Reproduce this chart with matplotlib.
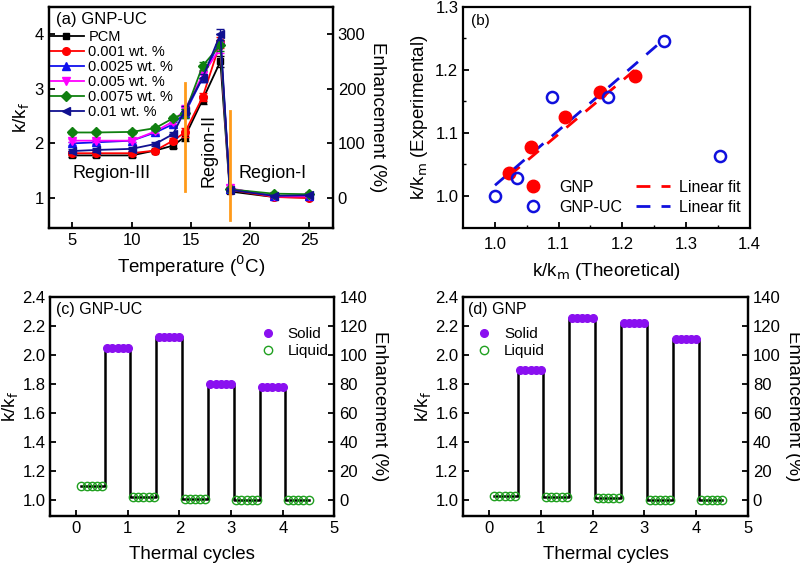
import numpy as np
import matplotlib
matplotlib.use("Agg")
import matplotlib.pyplot as plt

plt.rcParams['font.family'] = ['Liberation Sans', 'DejaVu Sans']
plt.rcParams['xtick.direction'] = 'in'
plt.rcParams['ytick.direction'] = 'in'
plt.rcParams['axes.linewidth'] = 1.6

# (a) k/kf vs temperature
temp = [5, 7, 10, 12, 13.5, 14.5, 16, 17.5, 18.3, 22, 25]
pcm = [1.78, 1.78, 1.78, 1.87, 1.96, 2.12, 2.80, 3.50, 1.12, 1.02, 1.01]
w0001 = [1.82, 1.82, 1.82, 1.87, 2.05, 2.20, 2.85, 3.85, 1.15, 1.02, 1.00]
w00025 = [2.00, 2.02, 2.05, 2.20, 2.35, 2.55, 3.20, 3.90, 1.17, 1.04, 1.04]
w0005 = [2.05, 2.05, 2.05, 2.22, 2.40, 2.62, 3.25, 3.75, 1.18, 1.03, 1.03]
w00075 = [2.20, 2.20, 2.21, 2.28, 2.46, 2.55, 3.42, 3.80, 1.16, 1.08, 1.07]
w001 = [1.86, 1.88, 1.90, 1.99, 2.17, 2.60, 3.20, 4.00, 1.15, 1.04, 1.05]
err = [0.03, 0.03, 0.03, 0.03, 0.04, 0.08, 0.07, 0.10, 0.03, 0.02, 0.02]
series_labels = ['PCM', '0.001 wt. %', '0.0025 wt. %', '0.005 wt. %', '0.0075 wt. %', '0.01 wt. %']

# (b) experimental vs theoretical
gnp_th = [1.022, 1.056, 1.110, 1.165, 1.220]
gnp_ex = [1.036, 1.077, 1.125, 1.165, 1.190]
uc_th = [1.000, 1.035, 1.089, 1.177, 1.265, 1.353]
uc_ex = [1.000, 1.028, 1.157, 1.157, 1.245, 1.064]
gnp_fit_x = [1.022, 1.220]
gnp_fit_y = [1.032, 1.200]
uc_fit_x = [1.000, 1.265]
uc_fit_y = [1.017, 1.248]

# (c), (d) thermal cycles
liq_x = [[0.1, 0.2, 0.3, 0.4, 0.5], [1.1, 1.2, 1.3, 1.4, 1.5], [2.1, 2.2, 2.3, 2.4, 2.5],
         [3.1, 3.2, 3.3, 3.4, 3.5], [4.1, 4.2, 4.3, 4.4, 4.5]]
sol_x = [[0.6, 0.7, 0.8, 0.9, 1.0], [1.6, 1.7, 1.8, 1.9, 2.0],
         [2.6, 2.7, 2.8, 2.9, 3.0], [3.6, 3.7, 3.8, 3.9, 4.0]]
uc_liquid = [1.10, 1.025, 1.005, 1.0, 1.0]
uc_solid = [2.045, 2.12, 1.80, 1.78]
gnp_liquid = [1.03, 1.02, 1.015, 1.0, 1.0]
gnp_solid = [1.895, 2.255, 2.217, 2.108]

LAB = 13.5

fig = plt.figure(figsize=(8, 5.66), dpi=100)

# ---- panel (a)
ax = fig.add_axes([0.061, 0.597, 0.355, 0.391])
colors = ['black', 'red', '#1010ee', '#ff00ff', '#108010', '#101090']
markers = ['s', 'o', '^', 'v', 'D', '<']
msizes = [5, 5.5, 5.5, 5.5, 5, 5.5]
for ys, c, m, ms, lab in zip([pcm, w0001, w00025, w0005, w00075, w001], colors, markers, msizes, series_labels):
    ax.errorbar(temp, ys, yerr=err, fmt='none', ecolor=c, capsize=3, elinewidth=1)
    ax.plot(temp, ys, color=c, marker=m, ms=ms, lw=1.3, label=lab)
ax.plot([14.5, 14.5], [1.12, 3.1], color='#ff9a1a', lw=2)
ax.plot([18.3, 18.3], [0.6, 2.6], color='#ff9a1a', lw=2)
ax.text(8.3, 1.45, 'Region-III', fontsize=13, ha='center', va='center')
ax.text(16.5, 1.88, 'Region-II', fontsize=13, ha='center', va='center', rotation=90)
ax.text(21.9, 1.45, 'Region-I', fontsize=13, ha='center', va='center')
ax.text(3.6, 4.27, '(a) GNP-UC', fontsize=12, va='center')
ax.set_xlim(3, 27)
ax.set_ylim(0.45, 4.5)
ax.set_xticks([5, 10, 15, 20, 25])
ax.set_yticks([1, 2, 3, 4])
ax.set_xlabel('Temperature ($^0$C)', fontsize=LAB)
ax.set_ylabel('k/k$_\\mathrm{f}$', fontsize=LAB, labelpad=2)
ax.tick_params(labelsize=12, width=1.3, length=4)
ax.legend(loc='upper left', bbox_to_anchor=(-0.01, 0.91), frameon=False, fontsize=10.5,
          handlelength=2.4, handletextpad=0.3, labelspacing=0.08, borderpad=0.2, borderaxespad=0)
ax2 = ax.twinx()
ax2.set_ylim((0.45 - 1) * 100, (4.5 - 1) * 100)
ax2.set_yticks([0, 100, 200, 300])
ax2.set_ylabel('Enhancement (%)', fontsize=LAB, rotation=270, labelpad=15)
ax2.tick_params(labelsize=12, width=1.3, length=4)

# ---- panel (b)
bx = fig.add_axes([0.579, 0.598, 0.358, 0.390])
bx.plot(gnp_fit_x, gnp_fit_y, '--', color='red', lw=2, dashes=(5, 4), label='Linear fit')
bx.plot(uc_fit_x, uc_fit_y, '--', color='#1010dd', lw=2, dashes=(5, 4), label='Linear fit')
bx.plot(gnp_th, gnp_ex, 'o', color='red', ms=9, label='GNP')
bx.plot(uc_th, uc_ex, 'o', mfc='none', mec='#1010dd', mew=1.8, ms=8, label='GNP-UC')
h, l = bx.get_legend_handles_labels()
bx.legend([h[2], h[3], h[0], h[1]], [l[2], l[3], l[0], l[1]], ncol=2, loc='lower right',
          bbox_to_anchor=(0.99, 0.03), frameon=False, fontsize=11.5, handlelength=2.1,
          handletextpad=0.55, columnspacing=0.9, labelspacing=0.3, borderaxespad=0)
bx.text(0.962, 1.277, '(b)', fontsize=11, va='center')
bx.set_xlim(0.95, 1.4)
bx.set_ylim(0.95, 1.3)
bx.set_xticks([1.0, 1.1, 1.2, 1.3, 1.4])
bx.set_xticks([1.05, 1.15, 1.25, 1.35], minor=True)
bx.set_yticks([1.0, 1.1, 1.2, 1.3])
bx.set_yticks([1.05, 1.15, 1.25], minor=True)
bx.set_xlabel('k/k$_\\mathrm{m}$ (Theoretical)', fontsize=LAB, labelpad=6)
bx.set_ylabel('k/k$_\\mathrm{m}$ (Experimental)', fontsize=LAB)
bx.tick_params(labelsize=12, width=1.3, length=4)
bx.tick_params(axis='x', pad=7)
bx.tick_params(which='minor', width=1, length=2.5)


def cycle_panel(pos, liquid, solid, title, leg_loc, leg_anchor):
    cx = fig.add_axes(pos)
    xs, ys = [], []
    for i in range(5):
        xs += liq_x[i]
        ys += [liquid[i]] * 5
        if i < 4:
            xs += sol_x[i]
            ys += [solid[i]] * 5
    cx.plot(xs, ys, color='black', lw=1.8, drawstyle='steps-mid', zorder=1)
    for i in range(4):
        cx.plot(sol_x[i], [solid[i]] * 5, 'o', color='#8a10f0', ms=5.5, zorder=2,
                label='Solid' if i == 0 else None)
    for i in range(5):
        cx.plot(liq_x[i], [liquid[i]] * 5, 'o', mfc='none', mec='#20a020', mew=1, ms=6, zorder=2,
                label='Liquid' if i == 0 else None)
    cx.text(-0.4, 2.31, title, fontsize=11.5, va='center')
    cx.legend(loc=leg_loc, bbox_to_anchor=leg_anchor, frameon=False, fontsize=11,
              handlelength=1.0, handletextpad=0.8, labelspacing=0.2, borderaxespad=0)
    cx.set_xlim(-0.5, 5)
    cx.set_ylim(0.89, 2.4)
    cx.set_xticks([0, 1, 2, 3, 4, 5])
    cx.set_yticks([1.0, 1.2, 1.4, 1.6, 1.8, 2.0, 2.2, 2.4])
    cx.set_yticklabels(['%.1f' % v for v in [1.0, 1.2, 1.4, 1.6, 1.8, 2.0, 2.2, 2.4]])
    cx.set_xlabel('Thermal cycles', fontsize=LAB, labelpad=7)
    cx.set_ylabel('k/k$_\\mathrm{f}$', fontsize=LAB, labelpad=1)
    cx.tick_params(labelsize=12, width=1.3, length=4)
    cx2 = cx.twinx()
    cx2.set_ylim((0.89 - 1) * 100, (2.4 - 1) * 100)
    cx2.set_yticks(range(0, 141, 20))
    cx2.set_ylabel('Enhancement (%)', fontsize=LAB, rotation=270, labelpad=15)
    cx2.tick_params(labelsize=12, width=1.3, length=4)
    return cx


cycle_panel([0.063, 0.088, 0.355, 0.388], uc_liquid, uc_solid, '(c) GNP-UC', 'upper right', (1.0, 0.89))
cycle_panel([0.579, 0.088, 0.356, 0.388], gnp_liquid, gnp_solid, '(d) GNP', 'upper left', (0.025, 0.89))

fig.savefig('out.png', dpi=100)
